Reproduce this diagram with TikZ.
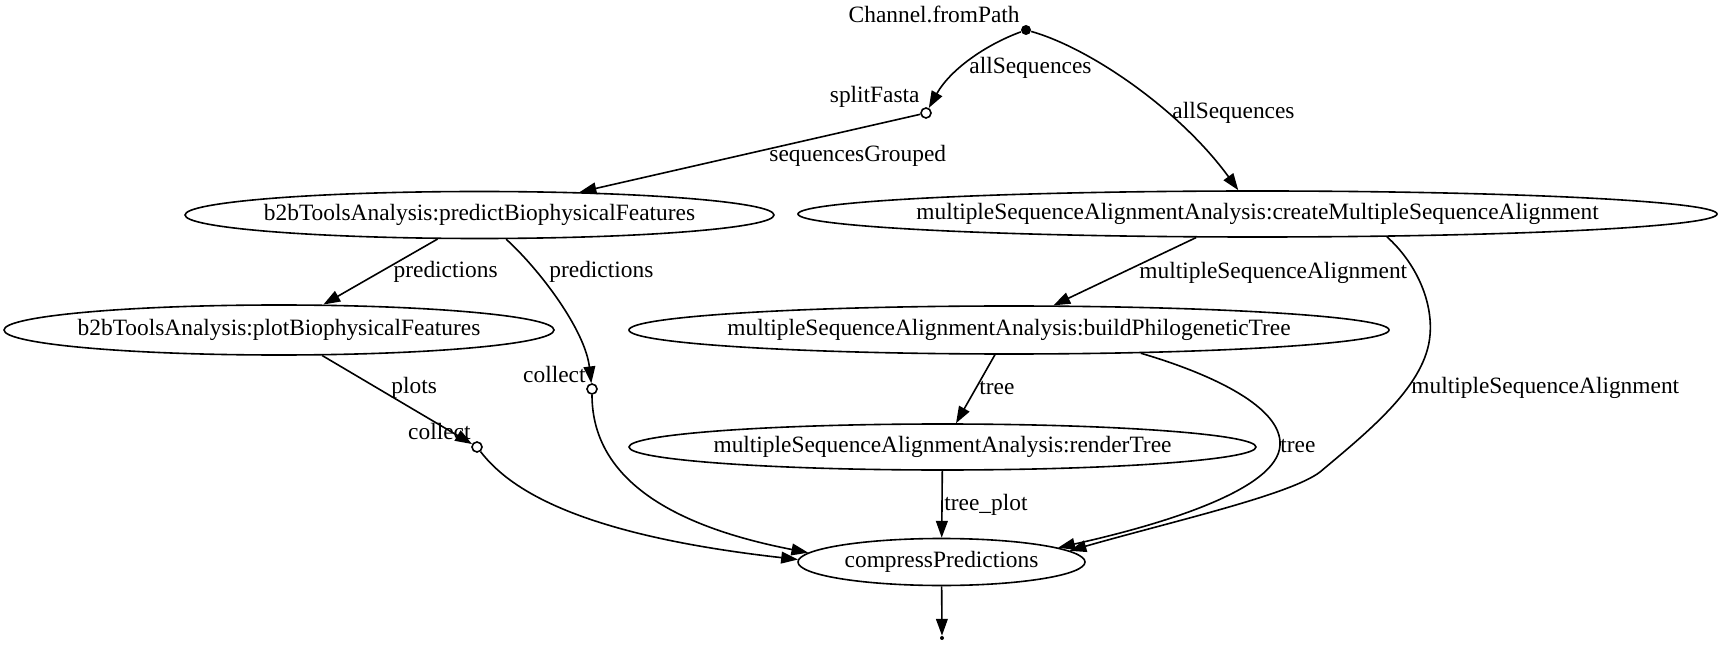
\documentclass[tikz,border=0pt]{standalone}
\usepackage{fontspec}
\setmainfont{Liberation Serif}
\usepackage{tikz}
\usetikzlibrary{arrows.meta,shapes.geometric}
\tikzset{
  >={Triangle[length=8.4pt,width=5.9pt]},
  font=\fontsize{11.7}{14}\selectfont,
  proc/.style={ellipse,draw,line width=0.8pt,inner sep=0pt,
               execute at begin node={\hbox to 0pt\bgroup\hss},
               execute at end node={\hss\egroup}},
  opc/.style={circle,draw,line width=0.8pt,fill=white,inner sep=0pt,minimum size=5pt},
  startpt/.style={circle,fill=black,inner sep=0pt,minimum size=5pt},
  endpt/.style={circle,fill=black,inner sep=0pt,minimum size=2pt},
  flow/.style={->,line width=0.8pt},
  lbl/.style={inner sep=0pt,anchor=west},
  xlbl/.style={inner sep=0pt,anchor=east},
}
\begin{document}
\begin{tikzpicture}[x=0.5pt,y=-0.5pt]
  \useasboundingbox (0,0) rectangle (1722,646);
  \node[startpt] (src) at (1026,30) {};
  \node[opc] (split) at (926,113) {};
  \node[proc,minimum width=294.5pt,minimum height=23.5pt] (pred) at (479.5,215) {b2bToolsAnalysis:predictBiophysicalFeatures};
  \node[proc,minimum width=459.5pt,minimum height=23pt] (msa) at (1257.5,214) {multipleSequenceAlignmentAnalysis:createMultipleSequenceAlignment};
  \node[proc,minimum width=275pt,minimum height=25pt] (plot) at (279,330) {b2bToolsAnalysis:plotBiophysicalFeatures};
  \node[opc] (c1) at (592,389) {};
  \node[opc] (c2) at (477,447) {};
  \node[proc,minimum width=380pt,minimum height=24pt] (build) at (1009,330) {multipleSequenceAlignmentAnalysis:buildPhilogeneticTree};
  \node[proc,minimum width=313.5pt,minimum height=23pt] (render) at (942.5,447) {multipleSequenceAlignmentAnalysis:renderTree};
  \node[proc,minimum width=143.5pt,minimum height=23.5pt] (comp) at (941.5,562) {compressPredictions};
  \node[endpt] (sink) at (942,638) {};

  \node[xlbl] (srcl) at (1020,14) {Channel.fromPath};
  \node[xlbl] (splitl) at (920,97) {splitFasta};
  \node[xlbl] (c1l) at (586,374) {collect};
  \node[xlbl] (c2l) at (471,431) {collect};

  \draw[flow] (src) .. controls (985,45) and (950,70) .. (split);
  \draw[flow] (src) .. controls (1090,48) and (1180,110) .. (msa.129);
  \draw[flow] (split) -- (pred);
  \draw[flow] (pred) -- (plot);
  \draw[flow] (pred) .. controls (540,270) and (585,330) .. (c1);
  \draw[flow] (plot) -- (c2);
  \draw[flow] (c1) .. controls (592,460) and (640,520) .. (comp.176);
  \draw[flow] (c2) .. controls (510,490) and (580,535) .. (comp.179);
  \draw[flow] (msa.201) -- (build.29);
  \draw[flow] (msa.-10) .. controls (1415,262) and (1433,300) .. (1430,335)
    .. controls (1426,385) and (1370,430) .. (1320,472)
    .. controls (1290,495) and (1170,522) .. (comp.5);
  \draw[flow] (build) -- (render);
  \draw[flow] (build.-10) .. controls (1215,375) and (1282,408) .. (1280,445)
    .. controls (1278,490) and (1160,525) .. (comp.7);
  \draw[flow] (render) -- (comp);
  \draw[flow] (comp) -- (sink);

  \node[lbl] (e1) at (969,68) {allSequences};
  \node[lbl] (e2) at (1172,113) {allSequences};
  \node[lbl] (e3) at (769,156) {sequencesGrouped};
  \node[xlbl] (e4) at (498,272) {predictions};
  \node[lbl] (e5) at (549,272) {predictions};
  \node[lbl] (e6) at (391,388) {plots};
  \node[lbl] (e7) at (1139,273) {multipleSequenceAlignment};
  \node[lbl] (e8) at (1411,388) {multipleSequenceAlignment};
  \node[lbl] (e9) at (979,388) {tree};
  \node[lbl] (e10) at (1280,446) {tree};
  \node[lbl] (e11) at (944,505) {tree\_plot};
\end{tikzpicture}
\end{document}
